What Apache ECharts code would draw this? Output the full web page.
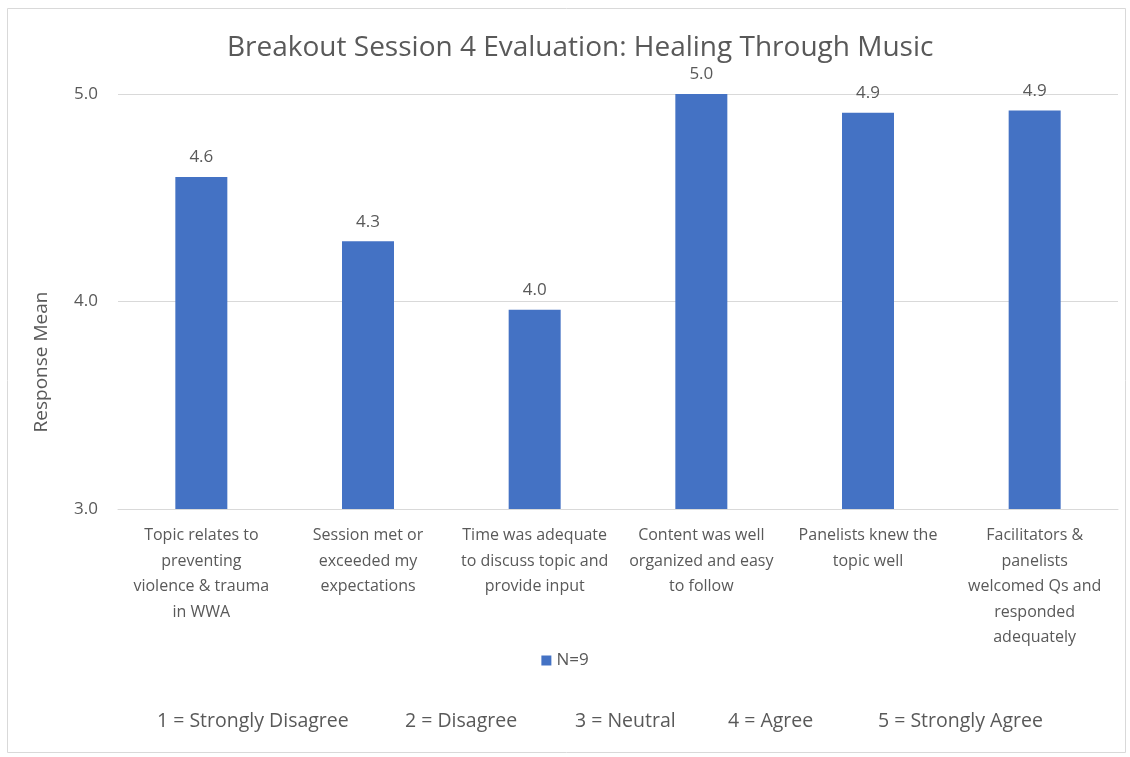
<!DOCTYPE html>
<html>
<head>
<meta charset="utf-8">
<script src="https://cdn.jsdelivr.net/npm/echarts@6/dist/echarts.min.js"></script>
<style>
  html, body { margin: 0; padding: 0; background: #fff; }
  #chart { width: 1130px; height: 757px; }
</style>
</head>
<body>
<div id="chart"></div>
<script>
// chart data
var categories = [
  "Topic relates to\npreventing\nviolence & trauma\nin WWA",
  "Session met or\nexceeded my\nexpectations",
  "Time was adequate\nto discuss topic and\nprovide input",
  "Content was well\norganized and easy\nto follow",
  "Panelists knew the\ntopic well",
  "Facilitators &\npanelists\nwelcomed Qs and\nresponded\nadequately"
];
var meanValues = [4.6, 4.29, 3.96, 5.0, 4.91, 4.92];
var yTicks = [3, 4, 5];
var scaleNotes = ["1 = Strongly Disagree", "2 = Disagree", "3 = Neutral", "4 = Agree", "5 = Strongly Agree"];
var noteX = [157, 405, 575, 728, 878];

var FONT = "'Open Sans', 'Noto Sans', sans-serif";
var GREY = "#595959";

var chart = echarts.init(document.getElementById("chart"));

var graphics = [{
  type: "rect",
  shape: { x: 7.5, y: 8.5, width: 1118, height: 744 },
  style: { fill: "none", stroke: "#d9d9d9", lineWidth: 1 },
  silent: true
}, {
  type: "text",
  x: 42, y: 362,
  rotation: Math.PI / 2,
  style: {
    text: "Response Mean", fill: GREY, font: "19px " + FONT,
    textAlign: "center", textVerticalAlign: "middle"
  }
}];
scaleNotes.forEach(function (t, i) {
  graphics.push({
    type: "text",
    x: noteX[i], y: 721,
    style: { text: t, fill: GREY, font: "19.5px " + FONT, textVerticalAlign: "middle" }
  });
});

chart.setOption({
  animation: false,
  title: {
    text: "Breakout Session 4 Evaluation: Healing Through Music",
    left: 222,
    top: 29,
    textStyle: { fontFamily: FONT, fontSize: 28, fontWeight: "normal", color: GREY }
  },
  grid: { left: 118, right: 12, top: 94, bottom: 248 },
  legend: {
    bottom: 83,
    left: "center",
    itemWidth: 10,
    itemHeight: 10,
    itemGap: 6,
    icon: "rect",
    textStyle: { fontFamily: FONT, fontSize: 17, color: GREY },
    data: ["N=9"]
  },
  xAxis: {
    type: "category",
    data: categories,
    axisLine: { lineStyle: { color: "#d9d9d9" } },
    axisTick: { show: false },
    axisLabel: {
      interval: 0, margin: 14, color: GREY, fontFamily: FONT, fontSize: 16, lineHeight: 25.5
    }
  },
  yAxis: {
    type: "value",
    min: yTicks[0],
    max: yTicks[yTicks.length - 1],
    interval: 1,
    axisLine: { show: false },
    axisTick: { show: false },
    splitLine: { lineStyle: { color: "#d9d9d9" } },
    axisLabel: {
      margin: 20, color: GREY, fontFamily: FONT, fontSize: 17,
      formatter: function (v) { return v.toFixed(1); }
    }
  },
  series: [{
    name: "N=9",
    type: "bar",
    data: meanValues,
    barWidth: 52,
    itemStyle: { color: "#4472c4" },
    label: {
      show: true, position: "top", distance: 11, color: GREY,
      fontFamily: FONT, fontSize: 17,
      formatter: function (p) { return p.value.toFixed(1); }
    }
  }],
  graphic: graphics
});
</script>
</body>
</html>
